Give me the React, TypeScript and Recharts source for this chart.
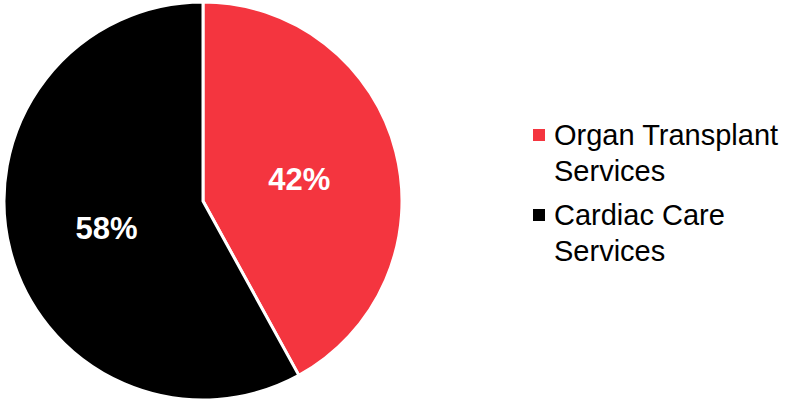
import React from 'react'
import { PieChart, Pie, Cell, Legend } from 'recharts'

const categories = ['Organ Transplant Services', 'Cardiac Care Services']
const legendLines = [['Organ Transplant', 'Services'], ['Cardiac Care', 'Services']]
const shares = [42, 58]
const colors = ['#F4353F', '#000000']

const data = categories.map((name, i) => ({ name, value: shares[i] }))

const RADIAN = Math.PI / 180

const renderLabel = (props: any) => {
  const { cx, cy, midAngle, outerRadius, value } = props
  const r = outerRadius * 0.5
  const x = cx + r * Math.cos(-midAngle * RADIAN)
  const y = cy + r * Math.sin(-midAngle * RADIAN) + 3
  return (
    <text
      x={x}
      y={y}
      fill="#ffffff"
      textAnchor="middle"
      dominantBaseline="central"
      fontFamily="'Liberation Sans', Arial, sans-serif"
      fontWeight="bold"
      fontSize={31}
    >
      {`${value}%`}
    </text>
  )
}

const renderLegend = () => (
  <div style={{ fontFamily: "'Liberation Sans', Arial, sans-serif", fontSize: 29, lineHeight: '36px', color: '#000' }}>
    {legendLines.map((lines, i) => (
      <div key={i} style={{ position: 'relative', paddingLeft: 21, marginBottom: 8 }}>
        <span
          style={{
            position: 'absolute',
            left: 0,
            top: 12,
            width: 12,
            height: 12,
            background: colors[i],
          }}
        />
        {lines.map((l, j) => (
          <div key={j}>{l}</div>
        ))}
      </div>
    ))}
  </div>
)

export default function App() {
  return (
    <div style={{ position: 'absolute', left: 0, top: 0, background: '#fff' }}>
      <PieChart width={794} height={401} margin={{ top: 0, right: 0, bottom: 0, left: 0 }}>
        <Pie
          data={data}
          dataKey="value"
          nameKey="name"
          cx={203}
          cy={201}
          outerRadius={199}
          startAngle={90}
          endAngle={-270}
          stroke="#ffffff"
          strokeWidth={3}
          label={renderLabel}
          labelLine={false}
          isAnimationActive={false}
        >
          {data.map((d, i) => (
            <Cell key={d.name} fill={colors[i]} />
          ))}
        </Pie>
        <Legend
          content={renderLegend}
          wrapperStyle={{ left: 533, top: 117, width: 261 }}
        />
      </PieChart>
    </div>
  )
}
